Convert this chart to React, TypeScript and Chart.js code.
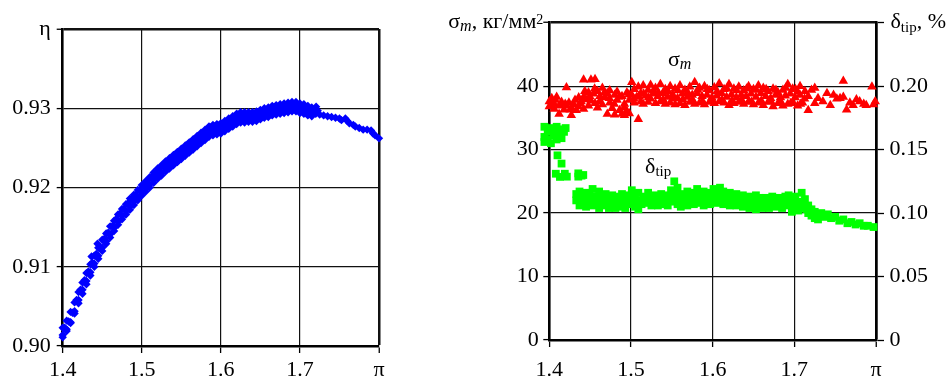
import React, { useEffect, useRef } from 'react';
import { Chart, registerables } from 'chart.js';

Chart.register(...registerables);

const FONT = '"Liberation Serif", "Times New Roman", Times, serif';

// ---------- Left chart: η vs π ----------
const piTicks = [1.4, 1.5, 1.6, 1.7, 1.8];
const piTickLabels = ['1.4', '1.5', '1.6', '1.7', 'π'];
const etaTicks = [0.9, 0.91, 0.92, 0.93, 0.94];
const etaTickLabels = ['0.90', '0.91', '0.92', '0.93', 'η'];

const etaPoints: [number, number][] = [
  [1.4000, 0.9014], [1.4025, 0.9023], [1.4050, 0.9021], [1.4075, 0.9031], [1.4100, 0.9030],
  [1.4125, 0.9042], [1.4150, 0.9044], [1.4175, 0.9058], [1.4200, 0.9058], [1.4225, 0.9071],
  [1.4250, 0.9071], [1.4275, 0.9083], [1.4300, 0.9082], [1.4325, 0.9094], [1.4350, 0.9093],
  [1.4375, 0.9105], [1.4400, 0.9104], [1.4425, 0.9116], [1.4450, 0.9114], [1.4475, 0.9125],
  [1.4500, 0.9124], [1.4525, 0.9135], [1.4550, 0.9132], [1.4575, 0.9143], [1.4600, 0.9141],
  [1.4625, 0.9151], [1.4650, 0.9149], [1.4675, 0.9160], [1.4700, 0.9157], [1.4725, 0.9167],
  [1.4750, 0.9164], [1.4775, 0.9173], [1.4800, 0.9170], [1.4825, 0.9180], [1.4850, 0.9176],
  [1.4875, 0.9186], [1.4900, 0.9182], [1.4925, 0.9191], [1.4950, 0.9187], [1.4975, 0.9197],
  [1.5000, 0.9193], [1.5025, 0.9203], [1.5050, 0.9199], [1.5075, 0.9209], [1.5100, 0.9204],
  [1.5125, 0.9214], [1.5150, 0.9210], [1.5175, 0.9219], [1.5200, 0.9215], [1.5225, 0.9224],
  [1.5250, 0.9219], [1.5275, 0.9228], [1.5300, 0.9224], [1.5325, 0.9232], [1.5350, 0.9228],
  [1.5375, 0.9236], [1.5400, 0.9232], [1.5425, 0.9240], [1.5450, 0.9236], [1.5475, 0.9244],
  [1.5500, 0.9240], [1.5525, 0.9248], [1.5550, 0.9244], [1.5575, 0.9252], [1.5600, 0.9248],
  [1.5625, 0.9256], [1.5650, 0.9252], [1.5675, 0.9260], [1.5700, 0.9256], [1.5725, 0.9264],
  [1.5750, 0.9260], [1.5775, 0.9268], [1.5800, 0.9264], [1.5825, 0.9272], [1.5850, 0.9267],
  [1.5875, 0.9276], [1.5900, 0.9270], [1.5925, 0.9277], [1.5950, 0.9271], [1.5975, 0.9278],
  [1.6000, 0.9272], [1.6025, 0.9280], [1.6050, 0.9275], [1.6075, 0.9283], [1.6100, 0.9279],
  [1.6125, 0.9286], [1.6150, 0.9282], [1.6175, 0.9289], [1.6200, 0.9284], [1.6225, 0.9291],
  [1.6250, 0.9286], [1.6275, 0.9292], [1.6300, 0.9286], [1.6325, 0.9291], [1.6350, 0.9286],
  [1.6375, 0.9291], [1.6400, 0.9286], [1.6425, 0.9292], [1.6450, 0.9287], [1.6475, 0.9294],
  [1.6500, 0.9289], [1.6525, 0.9296], [1.6550, 0.9291], [1.6575, 0.9298], [1.6600, 0.9293],
  [1.6625, 0.9299], [1.6650, 0.9294], [1.6675, 0.9300], [1.6700, 0.9295], [1.6725, 0.9301],
  [1.6750, 0.9296], [1.6775, 0.9302], [1.6800, 0.9297], [1.6825, 0.9303], [1.6850, 0.9298],
  [1.6875, 0.9304], [1.6900, 0.9299], [1.6925, 0.9305], [1.6950, 0.9299], [1.6975, 0.9304],
  [1.7000, 0.9298], [1.7025, 0.9302], [1.7050, 0.9297], [1.7075, 0.9301], [1.7100, 0.9295],
  [1.7125, 0.9299], [1.7150, 0.9294], [1.7175, 0.9297], [1.7200, 0.9293], [1.7205, 0.9302],
  [1.7225, 0.9297], [1.7250, 0.9292], [1.7300, 0.9291], [1.7350, 0.9290], [1.7400, 0.9289],
  [1.7450, 0.9288], [1.7500, 0.9287], [1.7525, 0.9285], [1.7575, 0.9287], [1.7600, 0.9284],
  [1.7625, 0.9281], [1.7675, 0.9279], [1.7700, 0.9277], [1.7750, 0.9275], [1.7800, 0.9273],
  [1.7850, 0.9273], [1.7900, 0.9272], [1.7925, 0.9268], [1.7950, 0.9266], [1.8000, 0.9262],
  [1.4365, 0.9113], [1.4440, 0.9129],
];

// upper / lower edges of the dense blue band
const etaEdgePoints: [number, number][] = [
  [1.400, 0.9023], [1.400, 0.9011], [1.405, 0.9032], [1.405, 0.9019], [1.410, 0.9043], [1.410, 0.9029],
  [1.415, 0.9055], [1.415, 0.9041], [1.420, 0.9068], [1.420, 0.9054], [1.425, 0.9080], [1.425, 0.9066],
  [1.430, 0.9092], [1.430, 0.9078], [1.435, 0.9103], [1.435, 0.9089], [1.440, 0.9114], [1.440, 0.9100],
  [1.445, 0.9124], [1.445, 0.9110], [1.450, 0.9134], [1.450, 0.9120], [1.455, 0.9142], [1.455, 0.9129],
  [1.460, 0.9151], [1.460, 0.9137], [1.465, 0.9158], [1.465, 0.9145], [1.470, 0.9166], [1.470, 0.9153],
  [1.475, 0.9173], [1.475, 0.9160], [1.480, 0.9179], [1.480, 0.9166], [1.485, 0.9186], [1.485, 0.9172],
  [1.490, 0.9191], [1.490, 0.9178], [1.495, 0.9197], [1.495, 0.9184], [1.500, 0.9203], [1.500, 0.9190],
  [1.505, 0.9208], [1.505, 0.9195], [1.510, 0.9213], [1.510, 0.9200], [1.515, 0.9219], [1.515, 0.9206],
  [1.520, 0.9224], [1.520, 0.9211], [1.525, 0.9228], [1.525, 0.9215], [1.530, 0.9233], [1.530, 0.9220],
  [1.535, 0.9237], [1.535, 0.9224], [1.540, 0.9241], [1.540, 0.9228], [1.545, 0.9245], [1.545, 0.9232],
  [1.550, 0.9249], [1.550, 0.9236], [1.555, 0.9253], [1.555, 0.9240], [1.560, 0.9257], [1.560, 0.9244],
  [1.565, 0.9261], [1.565, 0.9248], [1.570, 0.9265], [1.570, 0.9252], [1.575, 0.9269], [1.575, 0.9256],
  [1.580, 0.9273], [1.580, 0.9260], [1.585, 0.9277], [1.585, 0.9264], [1.590, 0.9279], [1.590, 0.9266],
  [1.595, 0.9280], [1.595, 0.9267], [1.600, 0.9281], [1.600, 0.9268], [1.605, 0.9284], [1.605, 0.9271],
  [1.610, 0.9287], [1.610, 0.9274], [1.615, 0.9290], [1.615, 0.9277], [1.620, 0.9293], [1.620, 0.9280],
  [1.625, 0.9295], [1.625, 0.9282], [1.630, 0.9295], [1.630, 0.9282], [1.635, 0.9295], [1.635, 0.9283],
  [1.640, 0.9295], [1.640, 0.9283], [1.645, 0.9296], [1.645, 0.9284], [1.650, 0.9298], [1.650, 0.9286],
  [1.655, 0.9300], [1.655, 0.9288], [1.660, 0.9301], [1.660, 0.9289], [1.665, 0.9303], [1.665, 0.9291],
  [1.670, 0.9304], [1.670, 0.9292], [1.675, 0.9305], [1.675, 0.9293], [1.680, 0.9306], [1.680, 0.9294],
  [1.685, 0.9307], [1.685, 0.9295], [1.690, 0.9308], [1.690, 0.9296], [1.695, 0.9308], [1.695, 0.9296],
  [1.700, 0.9306], [1.700, 0.9294], [1.705, 0.9305], [1.705, 0.9293], [1.710, 0.9303], [1.710, 0.9291],
  [1.715, 0.9301], [1.715, 0.9290],
];

// ---------- Right chart: σm and δtip vs π ----------
const sigmaTicks = [0, 10, 20, 30, 40, 50];
const sigmaTickLabels = ['0', '10', '20', '30', '40', ''];
const deltaTicks = [0, 0.05, 0.1, 0.15, 0.2, 0.25];
const deltaTickLabels = ['0', '0.05', '0.10', '0.15', '0.20', ''];

const sigmaPoints: [number, number][] = [
  [1.400, 37.6], [1.400, 36.8], [1.403, 38.1], [1.406, 37.2], [1.406, 36.4], [1.409, 38.3],
  [1.412, 36.9], [1.412, 35.6], [1.415, 37.5], [1.418, 36.3], [1.421, 39.8], [1.421, 36.9],
  [1.424, 37.4], [1.427, 35.4], [1.427, 36.6], [1.430, 37.1], [1.433, 36.2], [1.436, 38.2],
  [1.436, 36.8], [1.439, 37.6], [1.442, 41.0], [1.442, 38.3], [1.442, 36.4], [1.445, 37.9],
  [1.448, 36.9], [1.448, 39.0], [1.451, 41.0], [1.451, 37.7], [1.454, 38.8], [1.456, 41.1],
  [1.456, 37.3], [1.459, 39.2], [1.459, 36.6], [1.462, 38.4], [1.465, 39.7], [1.465, 37.1],
  [1.468, 38.2], [1.471, 35.6], [1.471, 38.9], [1.474, 37.4], [1.474, 39.3], [1.477, 36.5],
  [1.480, 35.5], [1.480, 38.6], [1.483, 37.8], [1.483, 39.1], [1.486, 36.2], [1.489, 35.6],
  [1.489, 38.4], [1.492, 37.2], [1.492, 35.4], [1.495, 39.0], [1.495, 36.1], [1.498, 35.7],
  [1.498, 37.8], [1.501, 40.6], [1.501, 38.6], [1.504, 37.4], [1.504, 39.5], [1.507, 38.3],
  [1.509, 34.8], [1.509, 39.9], [1.512, 37.6], [1.512, 38.9], [1.515, 40.1], [1.515, 37.2],
  [1.518, 38.5], [1.521, 39.4], [1.521, 37.5], [1.524, 40.2], [1.524, 38.0], [1.527, 38.8],
  [1.530, 37.3], [1.530, 39.7], [1.533, 38.4], [1.536, 40.3], [1.536, 37.6], [1.539, 38.9],
  [1.542, 37.2], [1.542, 39.5], [1.545, 38.3], [1.548, 40.0], [1.548, 37.4], [1.551, 38.7],
  [1.554, 37.1], [1.554, 39.6], [1.557, 38.1], [1.560, 40.1], [1.560, 37.3], [1.563, 38.8],
  [1.566, 37.0], [1.566, 39.4], [1.569, 38.3], [1.572, 37.5], [1.572, 39.9], [1.575, 38.6],
  [1.578, 40.6], [1.578, 37.2], [1.581, 38.9], [1.584, 37.4], [1.584, 39.7], [1.587, 38.4],
  [1.590, 37.1], [1.590, 40.0], [1.593, 38.6], [1.596, 37.5], [1.596, 39.3], [1.599, 38.2],
  [1.602, 37.3], [1.602, 39.8], [1.605, 38.5], [1.608, 40.4], [1.608, 37.6], [1.611, 38.9],
  [1.614, 37.4], [1.614, 39.5], [1.617, 38.3], [1.620, 40.3], [1.620, 37.0], [1.623, 38.7],
  [1.626, 37.3], [1.626, 39.6], [1.629, 38.2], [1.632, 39.9], [1.632, 37.5], [1.635, 38.6],
  [1.638, 37.2], [1.638, 39.3], [1.641, 38.4], [1.644, 40.0], [1.644, 37.6], [1.647, 38.8],
  [1.650, 37.1], [1.650, 39.5], [1.653, 38.3], [1.656, 40.1], [1.656, 37.4], [1.659, 38.9],
  [1.662, 37.0], [1.662, 39.7], [1.665, 38.4], [1.668, 37.5], [1.668, 39.2], [1.671, 38.1],
  [1.674, 36.8], [1.674, 39.6], [1.677, 38.6], [1.680, 37.3], [1.680, 39.0], [1.683, 38.2],
  [1.686, 36.9], [1.686, 39.4], [1.689, 38.5], [1.692, 40.3], [1.692, 37.2], [1.695, 38.8],
  [1.698, 37.5], [1.698, 39.6], [1.701, 38.2], [1.704, 36.9], [1.704, 39.1], [1.707, 38.6],
  [1.707, 40.0], [1.710, 37.4], [1.713, 39.2], [1.717, 36.2], [1.717, 38.4], [1.721, 39.4],
  [1.725, 39.7], [1.725, 37.3], [1.729, 38.1], [1.735, 37.6], [1.740, 38.9], [1.744, 37.0],
  [1.748, 38.6], [1.752, 38.0], [1.756, 38.1], [1.760, 38.3], [1.760, 40.8], [1.764, 36.3],
  [1.768, 37.4], [1.772, 37.0], [1.776, 37.9], [1.780, 37.6], [1.785, 37.2], [1.788, 37.0],
  [1.795, 39.9], [1.797, 37.1], [1.799, 37.6],
];

// middle row of the dense red band
const sigmaMidPoints: [number, number][] = [
  [1.4015, 37.0], [1.4075, 37.8], [1.4135, 37.0], [1.4195, 37.2], [1.4255, 36.3], [1.4315, 37.8],
  [1.4375, 37.3], [1.4435, 39.2], [1.4495, 38.4], [1.4555, 39.6], [1.4615, 37.6], [1.4675, 39.0],
  [1.4735, 38.1], [1.4795, 37.2], [1.4855, 38.3], [1.4915, 36.6], [1.4975, 38.7], [1.5035, 38.0],
  [1.5095, 38.4], [1.5155, 38.8], [1.5215, 38.2], [1.5275, 39.3], [1.5335, 39.0], [1.5395, 37.9],
  [1.5455, 39.2], [1.5515, 38.0], [1.5575, 39.3], [1.5635, 37.9], [1.5695, 39.0], [1.5755, 37.8],
  [1.5815, 39.4], [1.5875, 37.6], [1.5935, 39.5], [1.5995, 37.7], [1.6055, 39.2], [1.6115, 37.8],
  [1.6175, 39.6], [1.6235, 37.7], [1.6295, 39.3], [1.6355, 37.8], [1.6415, 39.6], [1.6475, 37.5],
  [1.6535, 39.4], [1.6595, 37.7], [1.6655, 39.5], [1.6715, 37.6], [1.6775, 39.4], [1.6835, 37.5],
  [1.6895, 39.7], [1.6955, 37.3], [1.7015, 39.5], [1.7075, 37.2], [1.7125, 38.0],
];

const deltaPoints: [number, number][] = [
  [1.390, 0.166], [1.390, 0.162], [1.394, 0.168], [1.394, 0.160], [1.394, 0.156],
  [1.398, 0.164], [1.398, 0.158], [1.402, 0.167], [1.402, 0.155], [1.406, 0.161],
  [1.406, 0.165], [1.409, 0.158], [1.409, 0.168], [1.412, 0.163], [1.415, 0.166],
  [1.415, 0.159], [1.418, 0.164], [1.420, 0.167],
  [1.410, 0.1455], [1.415, 0.139], [1.408, 0.131], [1.413, 0.1285], [1.4215, 0.1287],
  [1.419, 0.131], [1.4355, 0.1313], [1.4355, 0.1287], [1.4416, 0.130], [1.4395, 0.1295],
  [1.433, 0.115], [1.433, 0.110], [1.437, 0.112], [1.437, 0.117], [1.437, 0.106],
  [1.441, 0.113], [1.441, 0.108], [1.445, 0.116], [1.445, 0.110], [1.445, 0.105],
  [1.449, 0.114], [1.449, 0.108], [1.453, 0.119], [1.453, 0.111], [1.453, 0.106],
  [1.457, 0.113], [1.457, 0.109], [1.461, 0.117], [1.461, 0.104], [1.465, 0.112],
  [1.465, 0.108], [1.469, 0.115], [1.469, 0.106], [1.473, 0.111], [1.473, 0.104],
  [1.477, 0.114], [1.477, 0.108], [1.481, 0.110], [1.481, 0.104], [1.485, 0.113],
  [1.485, 0.107], [1.489, 0.115], [1.489, 0.105], [1.493, 0.110], [1.493, 0.104],
  [1.497, 0.114], [1.497, 0.107], [1.501, 0.118], [1.501, 0.109], [1.505, 0.112],
  [1.505, 0.105], [1.509, 0.116], [1.509, 0.103], [1.513, 0.110], [1.513, 0.107],
  [1.517, 0.113], [1.517, 0.108], [1.521, 0.116], [1.521, 0.109], [1.525, 0.111],
  [1.525, 0.106], [1.529, 0.114], [1.529, 0.108], [1.533, 0.112], [1.533, 0.106],
  [1.537, 0.115], [1.537, 0.109], [1.541, 0.111], [1.541, 0.107], [1.545, 0.114],
  [1.545, 0.106], [1.549, 0.118], [1.549, 0.109], [1.553, 0.125], [1.553, 0.112],
  [1.557, 0.120], [1.557, 0.107], [1.561, 0.115], [1.561, 0.105], [1.565, 0.113],
  [1.565, 0.108], [1.569, 0.117], [1.569, 0.106], [1.573, 0.112], [1.573, 0.109],
  [1.577, 0.116], [1.577, 0.107], [1.581, 0.119], [1.581, 0.110], [1.585, 0.114],
  [1.585, 0.108], [1.589, 0.117], [1.589, 0.106], [1.593, 0.113], [1.593, 0.109],
  [1.597, 0.116], [1.597, 0.107], [1.601, 0.119], [1.601, 0.111], [1.605, 0.115],
  [1.605, 0.108], [1.609, 0.120], [1.609, 0.110], [1.613, 0.117], [1.613, 0.107],
  [1.617, 0.114], [1.617, 0.109], [1.621, 0.116], [1.621, 0.106], [1.625, 0.113],
  [1.625, 0.108], [1.629, 0.115], [1.629, 0.106], [1.633, 0.112], [1.633, 0.108],
  [1.637, 0.114], [1.637, 0.105], [1.641, 0.111], [1.641, 0.107], [1.645, 0.113],
  [1.645, 0.104], [1.649, 0.110], [1.649, 0.106], [1.653, 0.114], [1.653, 0.103],
  [1.657, 0.112], [1.657, 0.107], [1.661, 0.109], [1.661, 0.104], [1.665, 0.112],
  [1.665, 0.106], [1.669, 0.110], [1.669, 0.104], [1.673, 0.113], [1.673, 0.107],
  [1.677, 0.110], [1.677, 0.105], [1.681, 0.112], [1.681, 0.107], [1.685, 0.109],
  [1.685, 0.104], [1.689, 0.113], [1.689, 0.106], [1.693, 0.114], [1.693, 0.108],
  [1.697, 0.111], [1.697, 0.101], [1.701, 0.113], [1.701, 0.105], [1.705, 0.109],
  [1.705, 0.102], [1.709, 0.116], [1.709, 0.107], [1.713, 0.111], [1.713, 0.104],
  [1.717, 0.106], [1.717, 0.100], [1.721, 0.103], [1.721, 0.098], [1.725, 0.101],
  [1.725, 0.096], [1.729, 0.099], [1.729, 0.095], [1.733, 0.100], [1.737, 0.097],
  [1.741, 0.099], [1.745, 0.096], [1.750, 0.097], [1.755, 0.094], [1.760, 0.095],
  [1.765, 0.092], [1.770, 0.093], [1.775, 0.091], [1.780, 0.092], [1.785, 0.090],
  [1.790, 0.090], [1.797, 0.089],
];

// middle row of the dense green band
const deltaMidPoints: [number, number][] = [
  [1.435, 0.113], [1.439, 0.110], [1.443, 0.112], [1.447, 0.109], [1.451, 0.113], [1.455, 0.110],
  [1.459, 0.111], [1.463, 0.108], [1.467, 0.111], [1.471, 0.109], [1.475, 0.110], [1.479, 0.107],
  [1.483, 0.110], [1.487, 0.109], [1.491, 0.108], [1.495, 0.110], [1.499, 0.112], [1.503, 0.109],
  [1.507, 0.110], [1.511, 0.108], [1.515, 0.111], [1.519, 0.110], [1.523, 0.112], [1.527, 0.109],
  [1.531, 0.111], [1.535, 0.109], [1.539, 0.112], [1.543, 0.109], [1.547, 0.111], [1.551, 0.114],
  [1.555, 0.116], [1.559, 0.111], [1.563, 0.110], [1.567, 0.111], [1.571, 0.112], [1.575, 0.110],
  [1.579, 0.113], [1.583, 0.112], [1.587, 0.111], [1.591, 0.112], [1.595, 0.110], [1.599, 0.114],
  [1.603, 0.113], [1.607, 0.112], [1.611, 0.114], [1.615, 0.111], [1.619, 0.112], [1.623, 0.110],
  [1.627, 0.111], [1.631, 0.109], [1.635, 0.110], [1.639, 0.108], [1.643, 0.109], [1.647, 0.107],
  [1.651, 0.108], [1.655, 0.107], [1.659, 0.106], [1.663, 0.108], [1.667, 0.107], [1.671, 0.108],
  [1.675, 0.108], [1.679, 0.107], [1.683, 0.109], [1.687, 0.108], [1.691, 0.110], [1.695, 0.107],
  [1.699, 0.106], [1.703, 0.108], [1.707, 0.105], [1.711, 0.106], [1.715, 0.103], [1.719, 0.101],
  [1.723, 0.099], [1.727, 0.097],
];

type Seg = { t: string; size: number; italic?: boolean; dy?: number };

function drawRich(ctx: CanvasRenderingContext2D, segs: Seg[], x: number, y: number, align: 'left' | 'right') {
  ctx.save();
  ctx.textBaseline = 'alphabetic';
  ctx.textAlign = 'left';
  ctx.fillStyle = '#000';
  const widths = segs.map((s) => {
    ctx.font = `${s.italic ? 'italic ' : ''}${s.size}px ${FONT}`;
    return ctx.measureText(s.t).width;
  });
  const total = widths.reduce((a, b) => a + b, 0);
  let cx = align === 'right' ? x - total : x;
  segs.forEach((s, i) => {
    ctx.font = `${s.italic ? 'italic ' : ''}${s.size}px ${FONT}`;
    ctx.fillText(s.t, cx, y + (s.dy || 0));
    cx += widths[i];
  });
  ctx.restore();
}

const zeroPad = (s: any) => {
  s.paddingLeft = 0;
  s.paddingRight = 0;
  s.paddingTop = 0;
  s.paddingBottom = 0;
};

const tickFont = { family: FONT, size: 22 };
const THIN = 1.2;
const THICK = 2.5;

const SPLIT = 400;
const W = 950;
const H = 381;

function setTicks(values: number[]) {
  return (s: any) => {
    s.ticks = values.map((v) => ({ value: v }));
  };
}

const toXY = (pts: [number, number][]) => pts.map(([x, y]) => ({ x, y }));

const richLabelsPlugin = {
  id: 'richLabels',
  afterDraw(chart: any) {
    const ctx = chart.ctx as CanvasRenderingContext2D;
    const ys = chart.scales.y;
    const xs = chart.scales.x;
    const area = chart.chartArea;
    const topY = ys.getPixelForValue(sigmaTicks[sigmaTicks.length - 1]);
    drawRich(
      ctx,
      [
        { t: 'σ', size: 22 },
        { t: 'm', size: 16, italic: true, dy: 3 },
        { t: ', кг/мм', size: 22 },
        { t: '2', size: 14, dy: -4 },
      ],
      area.left - 6,
      topY + 5.5,
      'right'
    );
    drawRich(
      ctx,
      [
        { t: 'δ', size: 22 },
        { t: 'tip', size: 15, dy: 4 },
        { t: ', %', size: 22 },
      ],
      area.right + 14.5,
      topY + 5.5,
      'left'
    );
    drawRich(
      ctx,
      [
        { t: 'σ', size: 22 },
        { t: 'm', size: 16, italic: true, dy: 3 },
      ],
      xs.getPixelForValue(1.5453),
      ys.getPixelForValue(43.2),
      'left'
    );
    drawRich(
      ctx,
      [
        { t: 'δ', size: 22 },
        { t: 'tip', size: 15, dy: 2.5 },
      ],
      xs.getPixelForValue(1.5172),
      ys.getPixelForValue(26.3),
      'left'
    );
  },
};

function xAxis(height: number, padding: number) {
  return {
    type: 'linear' as const,
    min: 1.4,
    max: 1.8,
    afterBuildTicks: setTicks(piTicks),
    ticks: {
      callback: (_v: any, i: number) => piTickLabels[i],
      font: tickFont,
      color: '#000',
      padding,
      maxRotation: 0,
      autoSkip: false,
    },
    grid: {
      color: '#111',
      lineWidth: (c: any) => (c.index === piTicks.length - 1 ? THICK : THIN),
      tickLength: 7,
      tickWidth: 1.3,
      tickColor: '#000',
    },
    border: { display: true, width: THICK, color: '#000' },
    afterFit: (s: any) => {
      s.height = height;
      zeroPad(s);
    },
  };
}

function fontsReady(): Promise<void> {
  const d: any = document;
  if (!d.fonts || !d.fonts.load) return Promise.resolve();
  return Promise.all([
    d.fonts.load(`22px ${FONT}`, '0.123456789ηπσδкгм'),
    d.fonts.load(`italic 16px ${FONT}`, 'm'),
  ])
    .then(() => undefined)
    .catch(() => undefined);
}

function LeftChart() {
  const ref = useRef<HTMLCanvasElement>(null);
  useEffect(() => {
    let chart: Chart | null = null;
    let dead = false;
    fontsReady().then(() => {
      if (dead || !ref.current) return;
      chart = new Chart(ref.current, {
        type: 'scatter',
        data: {
          datasets: [
            {
              data: [...toXY(etaEdgePoints), ...toXY(etaPoints)],
              pointStyle: 'rectRot',
              pointRadius: 4.2,
              pointBorderWidth: 0,
              backgroundColor: '#0000ff',
              borderColor: '#0000ff',
              clip: false as any,
            },
          ],
        },
        options: {
          animation: false,
          responsive: false,
          events: [],
          layout: { padding: { top: 29, right: SPLIT - 379, left: 0, bottom: 0 } },
          plugins: { legend: { display: false }, tooltip: { enabled: false } },
          scales: {
            x: xAxis(35, 4) as any,
            y: {
              type: 'linear',
              min: 0.9,
              max: 0.94,
              afterBuildTicks: setTicks(etaTicks),
              ticks: {
                callback: (_v: any, i: number) => etaTickLabels[i],
                font: tickFont,
                color: '#000',
                padding: 6,
                autoSkip: false,
              },
              grid: {
                color: '#111',
                lineWidth: (c: any) => (c.index === etaTicks.length - 1 ? THICK : THIN),
                tickLength: 6,
                tickWidth: 1.3,
                tickColor: '#000',
              },
              border: { display: true, width: THICK, color: '#000' },
              afterFit: (s: any) => {
                s.width = 62.7;
                zeroPad(s);
              },
            } as any,
          },
        },
      });
    });
    return () => {
      dead = true;
      if (chart) chart.destroy();
    };
  }, []);
  return <canvas ref={ref} width={SPLIT} height={H} style={{ position: 'absolute', left: 0, top: 0, width: SPLIT, height: H }} />;
}

function RightChart() {
  const ref = useRef<HTMLCanvasElement>(null);
  useEffect(() => {
    let chart: Chart | null = null;
    let dead = false;
    fontsReady().then(() => {
      if (dead || !ref.current) return;
      chart = new Chart(ref.current, {
        type: 'scatter',
        data: {
          datasets: [
            {
              data: [...toXY(sigmaPoints), ...toXY(sigmaMidPoints)],
              yAxisID: 'y',
              pointStyle: 'triangle',
              pointRadius: 5.5,
              pointBorderWidth: 0,
              backgroundColor: '#ff0000',
              borderColor: '#ff0000',
              clip: false as any,
            },
            {
              data: [...toXY(deltaPoints), ...toXY(deltaMidPoints)],
              yAxisID: 'y2',
              pointStyle: 'rect',
              pointRadius: 5.5,
              pointBorderWidth: 0,
              backgroundColor: '#00ff00',
              borderColor: '#00ff00',
              clip: false as any,
            },
          ],
        },
        options: {
          animation: false,
          responsive: false,
          events: [],
          layout: { padding: { top: 22.7, right: 0, left: 0, bottom: 0 } },
          plugins: { legend: { display: false }, tooltip: { enabled: false } },
          scales: {
            x: xAxis(41, 10) as any,
            y: {
              type: 'linear',
              position: 'left',
              min: 0,
              max: 50,
              afterBuildTicks: setTicks(sigmaTicks),
              ticks: {
                callback: (_v: any, i: number) => sigmaTickLabels[i],
                font: tickFont,
                color: '#000',
                padding: 4.5,
                autoSkip: false,
              },
              grid: {
                color: '#111',
                lineWidth: (c: any) => (c.index === sigmaTicks.length - 1 ? THICK : THIN),
                tickLength: 6,
                tickWidth: 1.3,
                tickColor: '#000',
              },
              border: { display: true, width: THICK, color: '#000' },
              afterFit: (s: any) => {
                s.width = 549.3 - SPLIT;
                zeroPad(s);
              },
            } as any,
            y2: {
              type: 'linear',
              position: 'right',
              min: 0,
              max: 0.25,
              afterBuildTicks: setTicks(deltaTicks),
              ticks: {
                callback: (_v: any, i: number) => deltaTickLabels[i],
                font: tickFont,
                color: '#000',
                padding: 5.5,
                autoSkip: false,
              },
              grid: {
                drawOnChartArea: false,
                color: '#111',
                tickLength: 8,
                tickWidth: 1.3,
                tickColor: '#000',
              },
              border: { display: true, width: THICK, color: '#000' },
              afterFit: (s: any) => {
                s.width = W - 876;
                zeroPad(s);
              },
            } as any,
          },
        },
        plugins: [richLabelsPlugin as any],
      });
    });
    return () => {
      dead = true;
      if (chart) chart.destroy();
    };
  }, []);
  return (
    <canvas
      ref={ref}
      width={W - SPLIT}
      height={H}
      style={{ position: 'absolute', left: SPLIT, top: 0, width: W - SPLIT, height: H }}
    />
  );
}

export default function App() {
  return (
    <div style={{ position: 'absolute', left: 0, top: 0, width: W, height: H, background: '#fff', overflow: 'hidden' }}>
      <span style={{ position: 'absolute', left: -9999, top: 0, fontFamily: FONT, fontSize: 22 }}>0.9 ηπσδ кг/мм <i>m</i></span>
      <LeftChart />
      <RightChart />
    </div>
  );
}
